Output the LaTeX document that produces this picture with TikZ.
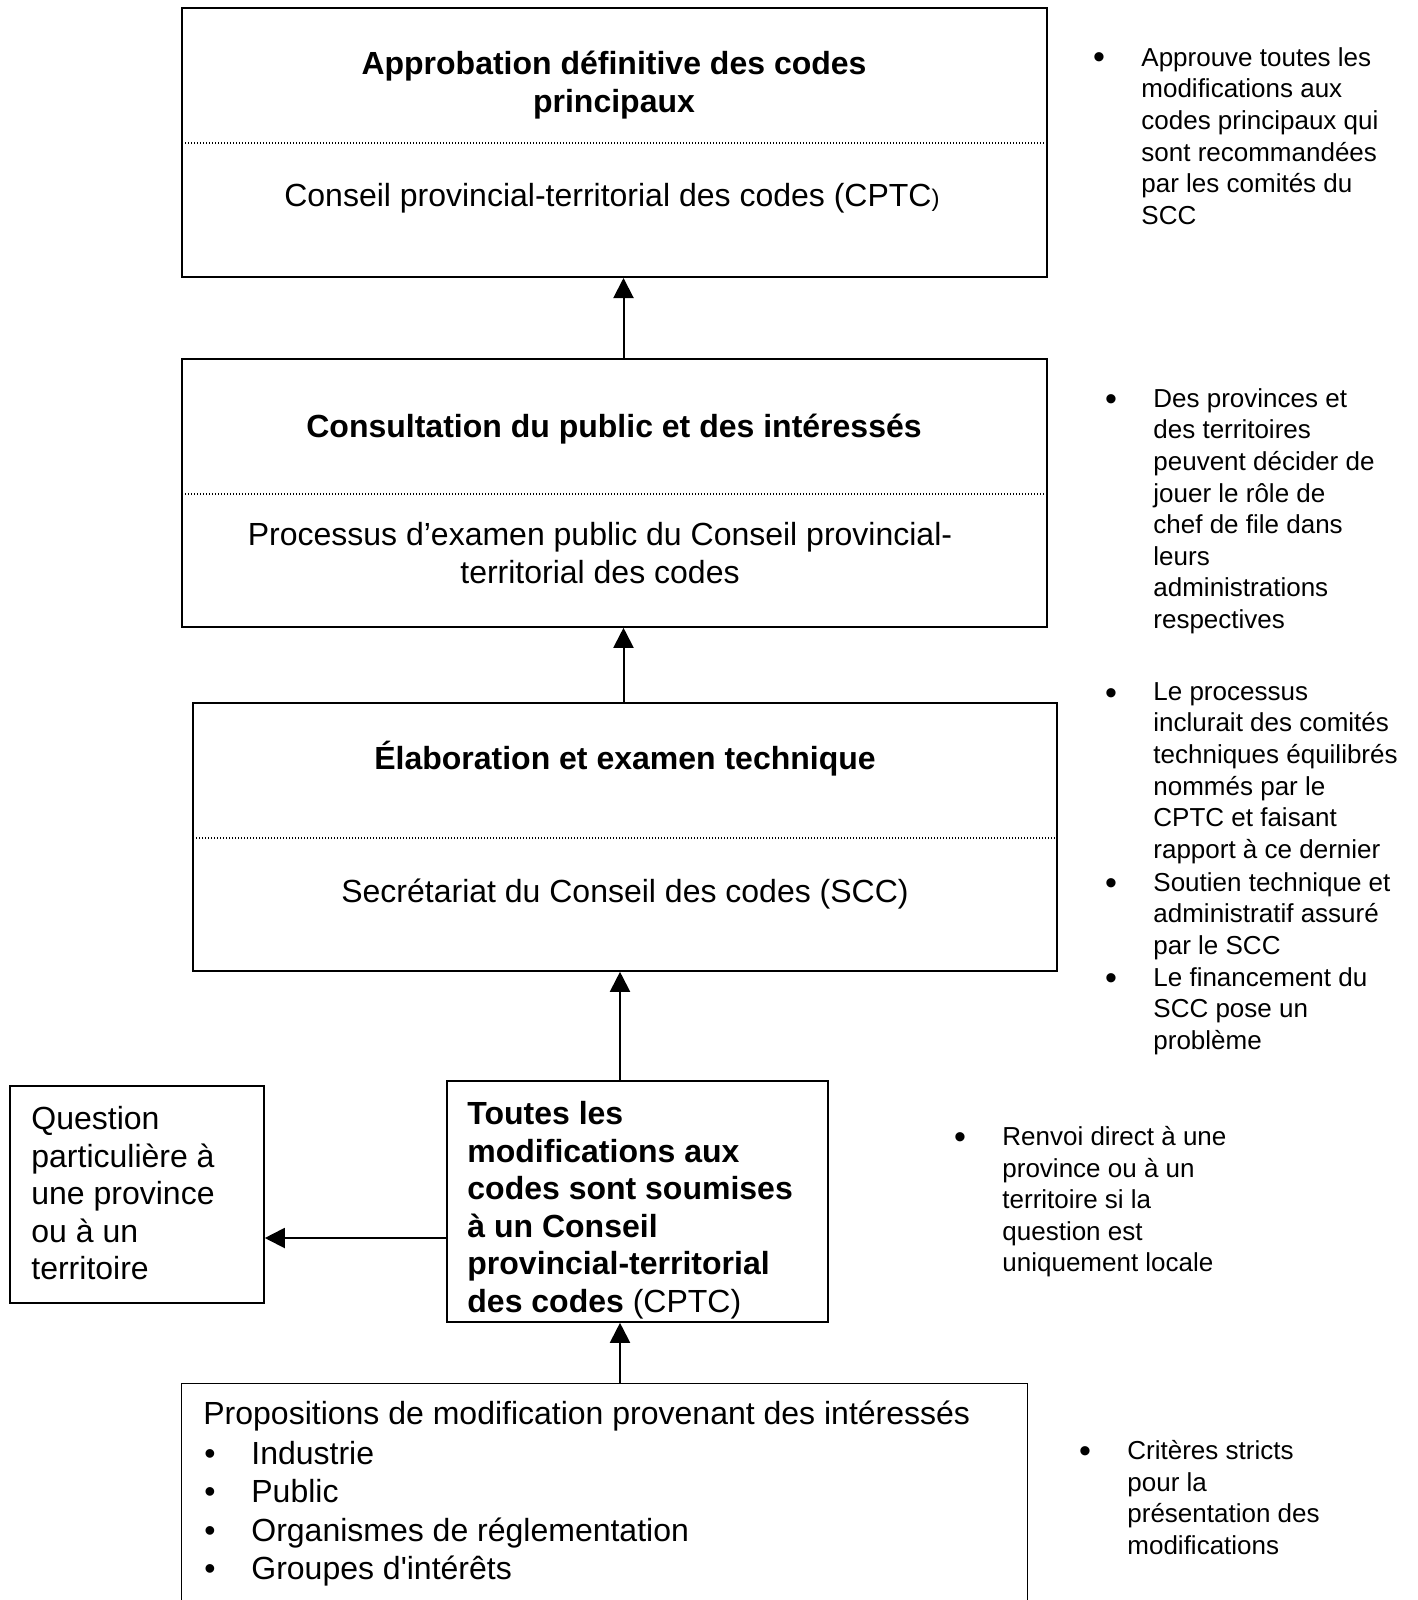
\documentclass[tikz,border=0pt]{standalone}
\usepackage{fontspec}
\setmainfont{Liberation Sans}
\usetikzlibrary{arrows.meta,fit}

\begin{document}
\begin{tikzpicture}[x=0.5pt,y=-0.5pt,
    box/.style={draw,line width=0.8pt,inner sep=0pt},
    sep/.style={line width=0.6pt,dash pattern=on 0.6pt off 0.9pt},
    arr/.style={line width=1pt,-{Triangle[length=10pt,width=10pt]}},
    big/.style={inner sep=0pt,font=\fontsize{16pt}{18.75pt}\selectfont},
    bigb/.style={inner sep=0pt,font=\fontsize{16pt}{18.75pt}\selectfont\bfseries},
    note/.style={inner sep=0pt,anchor=north west,align=left,font=\fontsize{13pt}{15.8pt}\selectfont},
    dot/.style={inner sep=0pt,anchor=base,font=\fontsize{17pt}{18pt}\selectfont}]
    \useasboundingbox[fill=white] (0,0) rectangle (1418,1600);
    % boxes
    \node[box,line width=1pt,fit={(182,8) (1047,277)}] (approv) {};
    \node[box,fit={(182,359) (1047,627)}] (consult) {};
    \node[box,fit={(193,703) (1057,971)}] (tech) {};
    \node[box,fit={(447,1081) (828,1322)}] (submit) {};
    \node[box,fit={(10,1086) (264,1303)}] (local) {};
    \node[inner sep=0pt,fit={(182,1384) (1027,1640)}] (props) {};
    \draw[line width=0.8pt] (props.south west) |- (props.north east) -- (props.south east);
    % dotted separators
    \draw[sep] (182,143) -- (1047,143);
    \draw[sep] (182,494) -- (1047,494);
    \draw[sep] (193,838) -- (1059,838);
    % box texts
    \node[bigb,align=center] (approv-t) at (614,85) {Approbation définitive des codes\\principaux};
    \node[big] (approv-s) at (612,198) {Conseil provincial-territorial des codes (CPTC{\fontsize{12pt}{14pt}\selectfont)}};
    \node[bigb] (consult-t) at (614,429) {Consultation du public et des intéressés};
    \node[big,align=center] (consult-s) at (600,553) {Processus d’examen public du Conseil provincial-\\territorial des codes};
    \node[bigb] (tech-t) at (625,759) {Élaboration et examen technique};
    \node[big] (tech-s) at (625,894) {Secrétariat du Conseil des codes (SCC)};
    \node[bigb,anchor=north west,align=left] (submit-t) at (467,1101) {Toutes les\\modifications aux\\codes sont soumises\\à un Conseil\\provincial-territorial\\des codes \mdseries(CPTC)};
    \node[big,anchor=north west,align=left] (local-t) at (31,1106) {Question\\particulière à\\une province\\ou à un\\territoire};
    \node[big,anchor=base west] (props-t) at (203,1424) {Propositions de modification provenant des intéressés};
    \foreach \y/\n/\t in {1464/ind/Industrie,1502/pub/Public,1541/org/Organismes de réglementation,1579/grp/Groupes d\textquotesingle intérêts}{
        \node[big,anchor=base] (\n-b) at (210,\y) {•};
        \node[big,anchor=base west] (\n) at (251,\y) {\t};
    }
    % arrows
    \coordinate (ax1) at (623.5,0);
    \coordinate (ax2) at (620,0);
    \coordinate (ay) at (0,1238);
    \draw[arr] (consult.north -| ax1) -- (approv.south -| ax1);
    \draw[arr] (tech.north -| ax1) -- (consult.south -| ax1);
    \draw[arr] (submit.north -| ax2) -- (tech.south -| ax2);
    \draw[arr] (props.north -| ax2) -- (submit.south -| ax2);
    \draw[arr] (submit.west |- ay) -- (local.east |- ay);
    % side notes
    \foreach \x/\y/\n/\t in {
        1141/57/napprov/{Approuve toutes les\\modifications aux\\codes principaux qui\\sont recommandées\\par les comités du\\SCC},
        1153/398/nconsult/{Des provinces et\\des territoires\\peuvent décider de\\jouer le rôle de\\chef de file dans\\leurs\\administrations\\respectives},
        1153/692/ntech/{Le processus\\inclurait des comités\\techniques équilibrés\\nommés par le\\CPTC et faisant\\rapport à ce dernier},
        1153/882/nsupport/{Soutien technique et\\administratif assuré\\par le SCC},
        1153/977/nfund/{Le financement du\\SCC pose un\\problème},
        1002/1136/nlocal/{Renvoi direct à une\\province ou à un\\territoire si la\\question est\\uniquement locale},
        1127/1450/nprops/{Critères stricts\\pour la\\présentation des\\modifications}}{
        \node[note] (\n) at (\x,\y-10) {\t};
        \node[dot] (\n-b) at (\x-42,\y+12) {•};
    }
\end{tikzpicture}
\end{document}
